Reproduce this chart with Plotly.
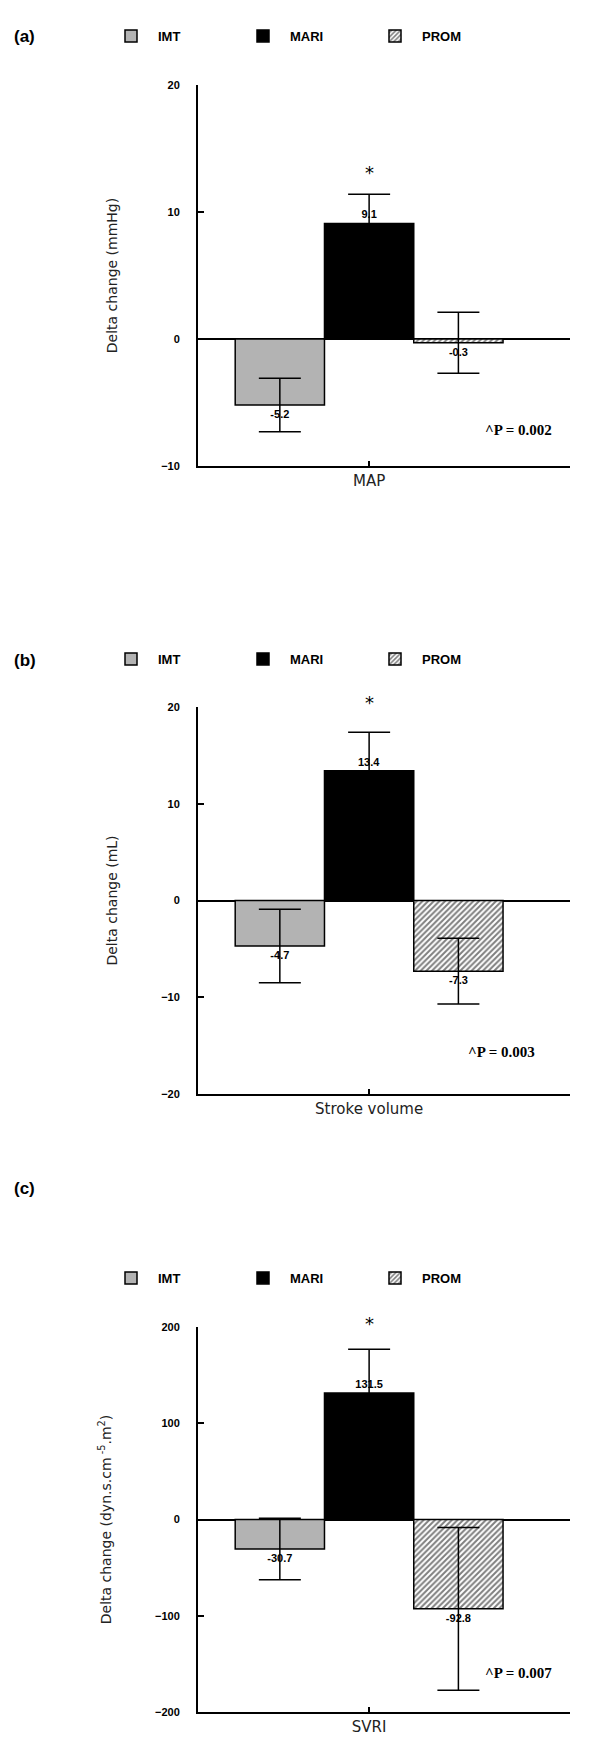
import plotly.graph_objects as go

groups = ["IMT", "MARI", "PROM"]
colors = ["#b3b3b3", "#000000", "#ffffff"]

categories = ["MAP", "Stroke volume", "SVRI"]
panel_labels = ["(a)", "(b)", "(c)"]
y_titles = ["Delta change (mmHg)", "Delta change (mL)",
            "Delta change (dyn.s.cm<sup> -5</sup>.m<sup>2</sup>)"]
p_texts = ["^P = 0.002", "^P = 0.003", "^P = 0.007"]

map_vals = [-5.2, 9.1, -0.3]
map_err = [2.1, 2.3, 2.4]
map_labels = ["-5.2", "9.1", "-0.3"]

sv_vals = [-4.7, 13.4, -7.3]
sv_err = [3.8, 4.0, 3.4]
sv_labels = ["-4.7", "13.4", "-7.3"]

svri_vals = [-30.7, 131.5, -92.8]
svri_err = [32.0, 45.5, 84.5]
svri_labels = ["-30.7", "131.5", "-92.8"]

y_ranges = [[-10, 20], [-20, 20], [-200, 200]]
y_dticks = [10, 10, 100]

values = [map_vals, sv_vals, svri_vals]
errors = [map_err, sv_err, svri_err]
labels = [map_labels, sv_labels, svri_labels]

H = 1762.0
W = 600.0
plot_px = [(85, 466), (707, 1094), (1327, 1712)]
legend_px = [36, 659, 1278]
label_px = [36, 660, 1188]
p_pos = [(0.765, 0.068), (0.72, 0.083), (0.765, 0.075)]
star_shift = [22, 30, 26]

fig = go.Figure()
bold_font = "Liberation Sans"
tick_font = dict(family=bold_font, size=11, color="black", weight="bold")

for i in range(3):
    xa = "x" if i == 0 else f"x{i+1}"
    ya = "y" if i == 0 else f"y{i+1}"
    lg = "legend" if i == 0 else f"legend{i+1}"
    for g in range(3):
        pattern = dict(shape="/", fgcolor="black", bgcolor="white", size=4, solidity=0.5) if g == 2 else dict(shape="")
        fig.add_trace(go.Bar(
            x=[categories[i]], y=[values[i][g]], name=groups[g],
            marker=dict(color=colors[g], line=dict(color="black", width=1.5), pattern=pattern),
            error_y=dict(type="data", array=[errors[i][g]], color="black", thickness=1.5, width=21),
            text=[labels[i][g]], textposition="outside", cliponaxis=False,
            textfont=dict(family=bold_font, size=11, color="black", weight="bold"),
            xaxis=xa, yaxis=ya, legend=lg, showlegend=True,
        ))
    top, bot = plot_px[i]
    xkey = "xaxis" if i == 0 else f"xaxis{i+1}"
    ykey = "yaxis" if i == 0 else f"yaxis{i+1}"
    fig.layout[xkey] = dict(
        domain=[198 / W, 570 / W], anchor=ya, range=[-0.46, 0.54],
        showline=True, linecolor="black", linewidth=2, ticks="inside", ticklen=5,
        tickcolor="black", tickwidth=1.5, showgrid=False, zeroline=False,
        tickfont=dict(family="DejaVu Sans", size=15, color="#222"),
    )
    fig.layout[ykey] = dict(
        domain=[1 - bot / H, 1 - top / H], anchor=xa, range=y_ranges[i], dtick=y_dticks[i],
        showline=True, linecolor="black", linewidth=2, ticks="inside", ticklen=6,
        tickcolor="black", tickwidth=1.5, showgrid=False,
        zeroline=True, zerolinecolor="black", zerolinewidth=1.5,
        tickfont=tick_font, ticklabelstandoff=14,
        title=dict(text=y_titles[i], font=dict(family="DejaVu Sans", size=14, color="#222"), standoff=40),
    )
    fig.layout[lg] = dict(
        orientation="h", x=104 / W, y=1 - legend_px[i] / H, xanchor="left", yanchor="middle",
        entrywidth=73, entrywidthmode="pixels", itemwidth=44,
        font=dict(family=bold_font, size=13, color="black", weight="bold"),
        bgcolor="rgba(0,0,0,0)", traceorder="normal",
    )
    fig.add_annotation(x=categories[i], y=values[i][1] + errors[i][1], xref=xa, yref=ya,
                       text="*", showarrow=False, yshift=star_shift[i],
                       font=dict(family="DejaVu Sans", size=18, color="black"))
    fig.add_annotation(x=p_pos[i][0], y=p_pos[i][1], xref=f"{xa} domain", yref=f"{ya} domain",
                       xanchor="left", text=p_texts[i], showarrow=False,
                       font=dict(family="Liberation Serif", size=15, color="black", weight="bold"))
    fig.add_annotation(x=12 / W, y=1 - label_px[i] / H, xref="paper", yref="paper",
                       xanchor="left", yanchor="middle", text=panel_labels[i], showarrow=False,
                       font=dict(family="Liberation Sans", size=17, color="black", weight="bold"))

fig.update_layout(
    width=600, height=1762, margin=dict(l=0, r=0, t=0, b=0, autoexpand=False),
    paper_bgcolor="white", plot_bgcolor="white",
    barmode="group", bargap=0.28, bargroupgap=0,
)

fig.write_html("out.html", config={"displayModeBar": False},
               post_script="document.body.style.margin='0';")
